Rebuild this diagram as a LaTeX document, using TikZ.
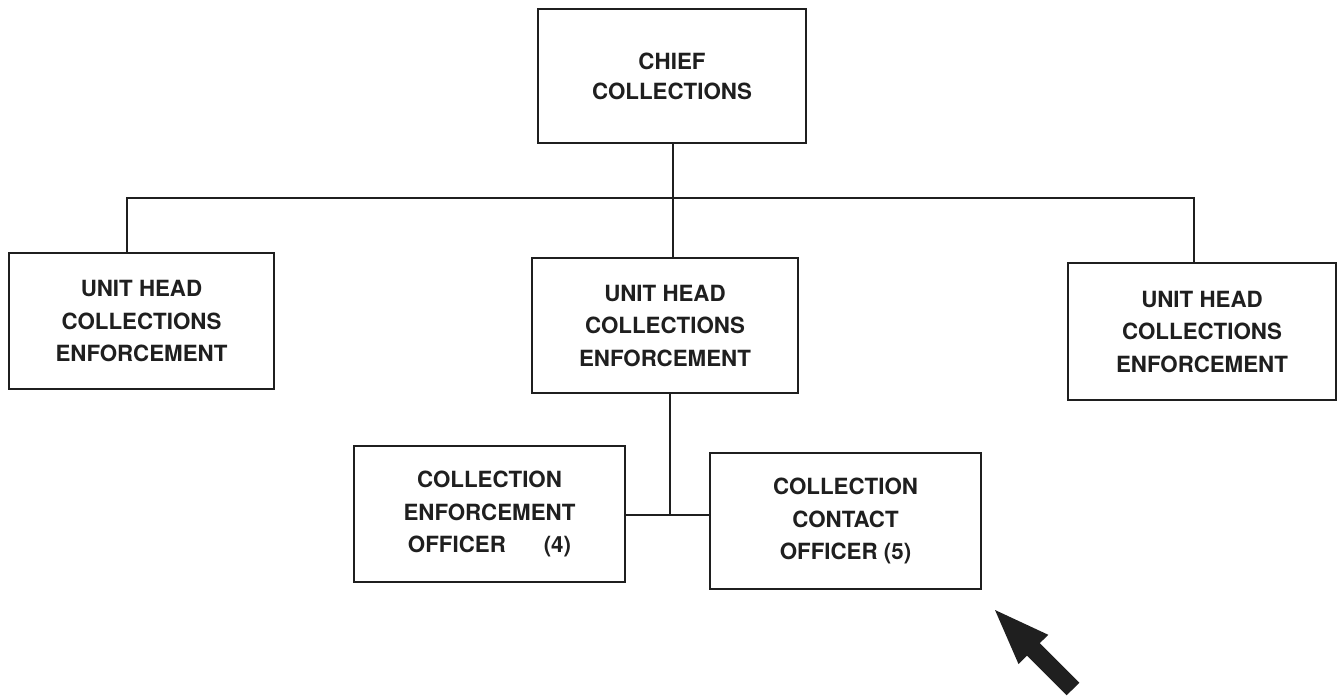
\documentclass[tikz,border=0pt]{standalone}
\usepackage{fontspec}
\setmainfont{TeX Gyre Heros}
\begin{document}
\begin{tikzpicture}[x=0.02cm, y=-0.02cm,
  ink/.style={draw=black!88, line width=1.5pt},
  orgbox/.style={ink, rectangle, align=center, text=black!88,
    font=\fontsize{12.7}{18.5}\selectfont\bfseries, inner sep=0pt},
  link/.style={ink}]
\useasboundingbox (0,0) rectangle (1343,698);

% boxes
\node[orgbox, minimum width=5.36cm, minimum height=2.68cm,
      font=\fontsize{12.7}{17}\selectfont\bfseries] (chief) at (672,76)
  {CHIEF\\COLLECTIONS};
\node[orgbox, minimum width=5.30cm, minimum height=2.72cm] (left) at (141.5,321)
  {UNIT HEAD\\COLLECTIONS\\ENFORCEMENT};
\node[orgbox, minimum width=5.32cm, minimum height=2.70cm] (mid) at (665,325.5)
  {UNIT HEAD\\COLLECTIONS\\ENFORCEMENT};
\node[orgbox, minimum width=5.36cm, minimum height=2.74cm] (right) at (1202,331.5)
  {UNIT HEAD\\COLLECTIONS\\ENFORCEMENT};
\node[orgbox, minimum width=5.42cm, minimum height=2.72cm] (ceo) at (489.5,514)
  {COLLECTION\\ENFORCEMENT\\OFFICER\hspace{1.7em}(4)};
\node[orgbox, minimum width=5.42cm, minimum height=2.72cm] (cco) at (845.5,521)
  {COLLECTION\\CONTACT\\OFFICER (5)};

% connector routing points
\coordinate (stem) at (673,198);
\coordinate (busL) at (127,198);
\coordinate (busR) at (1194,198);
\coordinate (junc) at (670,515);

% chief to unit heads
\draw[link] (chief.south -| stem) -- (stem);
\draw[link] (stem) -- (stem |- mid.north);
\draw[link] (busL |- left.north) -- (busL) -- (busR) -- (busR |- right.north);

% middle unit head to officers
\draw[link] (junc |- mid.south) -- (junc);
\draw[link] (junc -| ceo.east) -- (junc -| cco.west);

% pointer arrow
\fill[black!88] (995,610) -- (1048.3,634.8) -- (1039.8,643.1) -- (1079.4,682.7)
  -- (1066.6,695.3) -- (1027.0,655.7) -- (1018.5,664.0) -- cycle;
\end{tikzpicture}
\end{document}
